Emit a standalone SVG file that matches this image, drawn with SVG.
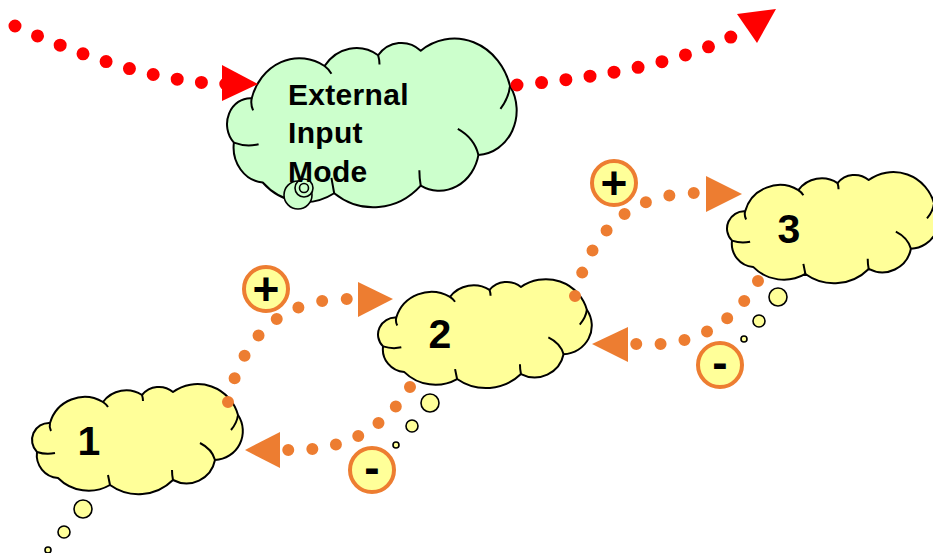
<svg xmlns="http://www.w3.org/2000/svg" xmlns:xlink="http://www.w3.org/1999/xlink" width="933" height="553" viewBox="0 0 933 553">
<style>
.cl path{stroke:#000;stroke-width:2;vector-effect:non-scaling-stroke;stroke-linejoin:round}
.bub{fill:#FFFF99;stroke:#000;stroke-width:1.6}
.gbub{fill:#CCFFCC;stroke:#000;stroke-width:1.6}
.odots{fill:none;stroke:#ED7D31;stroke-width:12;stroke-linecap:round;stroke-dasharray:0 1}
.rdots{fill:none;stroke:#FF0000;stroke-width:13;stroke-linecap:round;stroke-dasharray:0 1}
.oarrow{fill:#ED7D31}
.rarrow{fill:#FF0000}
.sign circle{fill:#FFFF99;stroke:#ED7D31;stroke-width:4}
.sign text{font-family:"Liberation Sans",Arial,sans-serif;font-weight:bold;font-size:46px;text-anchor:middle;fill:#000}
.num{font-family:"Liberation Sans",Arial,sans-serif;font-weight:bold;font-size:41px;text-anchor:middle;fill:#000}
.ext{font-family:"Liberation Sans",Arial,sans-serif;font-weight:bold;font-size:30px;letter-spacing:0.3px;fill:#000}
</style>
<defs>
<g id="cloud" class="cl">
<path d="M18,36 A36,36 0 0 1 71,15 A29,29 0 0 1 110,8 A22,22 0 0 1 141,5 A42,42 0 0 1 206,28 A29,29 0 0 1 183,73 A29,29 0 0 1 141,93 A49,49 0 0 1 78,98 A43,43 0 0 1 26,91 A23,23 0 0 1 5,65 A17,17 0 0 1 18,36 Z"/>
<path fill="none" d="M5,65 Q14,68 23,66 M18,36 Q17,40 19,44 M71,15 Q74,17 76,20 M110,8 Q111,11 111,14 M206,28 Q205,36 199,43 M168,56 Q180,62 183,73 M141,93 Q140,88 140,83 M78,98 Q77,93 76,88"/>
</g>
</defs>

<g id="node-external">
<use xlink:href="#cloud" href="#cloud" fill="#CCFFCC" transform="translate(227,43) scale(1.374,1.533)"/>
<circle class="gbub" cx="298" cy="195" r="14"/>
<circle class="gbub" cx="304" cy="188" r="9"/>
<circle class="gbub" cx="304" cy="188" r="4.5"/>
<text class="ext" x="288" y="105">External</text>
<text class="ext" x="288" y="143">Input</text>
<text class="ext" x="288" y="182">Mode</text>
</g>

<g id="node-1">
<use xlink:href="#cloud" href="#cloud" fill="#FFFF99" transform="translate(32,387)"/>
<circle class="bub" cx="83" cy="509" r="9"/>
<circle class="bub" cx="64" cy="532" r="6"/>
<circle class="bub" cx="48" cy="550" r="3"/>
<text class="num" x="89" y="455">1</text>
</g>

<g id="node-2">
<use xlink:href="#cloud" href="#cloud" fill="#FFFF99" transform="translate(378,282) scale(1.014,0.99)"/>
<circle class="bub" cx="430" cy="403" r="9"/>
<circle class="bub" cx="412" cy="426" r="6"/>
<circle class="bub" cx="396" cy="445" r="3"/>
<text class="num" x="440" y="348">2</text>
</g>

<g id="node-3">
<use xlink:href="#cloud" href="#cloud" fill="#FFFF99" transform="translate(727,175) scale(1.005,1.01)"/>
<circle class="bub" cx="778" cy="297" r="9"/>
<circle class="bub" cx="759" cy="321" r="6"/>
<circle class="bub" cx="744" cy="339" r="3"/>
<text class="num" x="789" y="243">3</text>
</g>

<g id="connectors">
<path class="rdots" pathLength="9.01" d="M15,26 Q138,82 226,84"/>
<polygon class="rarrow" points="222,65 258,84 222,101"/>
<path class="rdots" pathLength="9.01" d="M517,85 Q660,72 731,37"/>
<polygon class="rarrow" points="737,14 776,9 757,43"/>
<path class="odots" pathLength="7.01" d="M228,402 Q250,300 347,299"/>
<polygon class="oarrow" points="358,282 393,299 358,317"/>
<path class="odots" pathLength="6.01" d="M410,387 Q370,452 288,450"/>
<polygon class="oarrow" points="280,432 245,450 280,468"/>
<path class="odots" pathLength="7.01" d="M575,296 Q600,195 694,193"/>
<polygon class="oarrow" points="706,176 742,194 706,212"/>
<path class="odots" pathLength="6.01" d="M758,281 Q718,350 636,344"/>
<polygon class="oarrow" points="628,327 592,344 628,362"/>
</g>

<g id="sign-plus-1" class="sign"><circle cx="266" cy="289" r="22"/><text x="266" y="305">+</text></g>
<g id="sign-minus-1" class="sign"><circle cx="372" cy="470" r="22"/><text x="372" y="483">-</text></g>
<g id="sign-plus-2" class="sign"><circle cx="614" cy="183" r="22"/><text x="614" y="199">+</text></g>
<g id="sign-minus-2" class="sign"><circle cx="720" cy="365" r="22"/><text x="720" y="378">-</text></g>
</svg>
